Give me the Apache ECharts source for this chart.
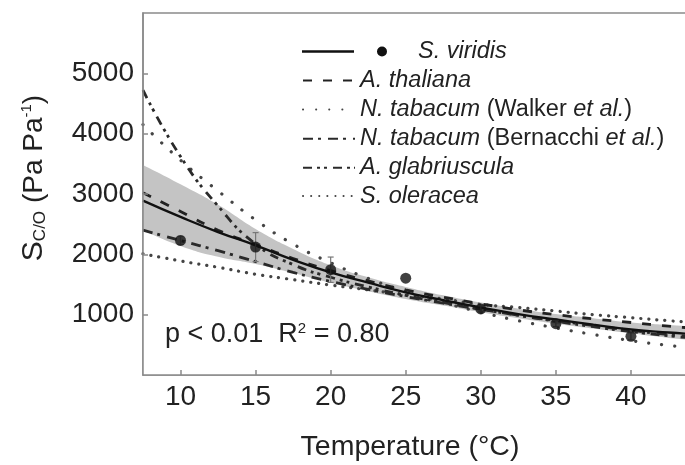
<!DOCTYPE html>
<html>
<head>
<meta charset="utf-8">
<script src="https://cdn.jsdelivr.net/npm/echarts@6/dist/echarts.min.js"></script>
<style>
html,body{margin:0;padding:0;background:#fff;}
#chart{width:685px;height:465px;}
</style>
</head>
<body>
<div id="chart"></div>
<script>
// ---- data ----
const temps = [7.5, 10, 12.5, 15, 17.5, 20, 22.5, 25, 27.5, 30, 32.5, 35, 37.5, 40, 42.5, 45];
const fitViridis = [2890, 2620, 2370, 2150, 1910, 1700, 1530, 1370, 1240, 1120, 1010, 920, 835, 755, 705, 665];
const bandLower = [2400, 2140, 1960, 1840, 1690, 1530, 1390, 1260, 1150, 1040, 940, 850, 770, 690, 615, 560];
const bandUpper = [3480, 3160, 2820, 2420, 2090, 1820, 1620, 1460, 1320, 1200, 1100, 1010, 940, 870, 830, 790];
const thaliana = [3020, 2710, 2400, 2160, 1930, 1730, 1560, 1410, 1290, 1180, 1080, 1000, 930, 870, 810, 760];
const tabacumWalker = [4150, 3560, 3050, 2570, 2170, 1860, 1600, 1380, 1200, 1040, 900, 780, 670, 570, 490, 430];
const tabacumBernacchi = [2400, 2230, 2060, 1880, 1700, 1550, 1420, 1300, 1190, 1090, 990, 900, 820, 740, 670, 610];
const glabriuscula = [4720, 3620, 2800, 2170, 1830, 1620, 1460, 1320, 1200, 1090, 990, 890, 800, 720, 650, 590];
const oleracea = [2010, 1890, 1785, 1670, 1580, 1490, 1410, 1330, 1260, 1170, 1120, 1060, 1000, 950, 900, 860];
const obsTemps = [10, 15, 20, 25, 30, 35, 40];
const obsValues = [2230, 2120, 1745, 1605, 1095, 850, 641];
const obsErrors = [70, 240, 210, 0, 50, 50, 60];
const xTickValues = [10, 15, 20, 25, 30, 35, 40];
const seriesNames = ['S. viridis', 'A. thaliana', 'N. tabacum (Walker et al.)', 'N. tabacum (Bernacchi et al.)', 'A. glabriuscula', 'S. oleracea'];

const FONT = '"Liberation Sans", Arial, sans-serif';
const pair = (xs, ys) => xs.map((x, i) => [x, ys[i]]);

const legendText = {
  'S. viridis': '{ip|S. viridis}',
  'A. thaliana': '{i|A. thaliana}',
  'N. tabacum (Walker et al.)': '{i|N. tabacum} {n|(Walker }{i|et al.}{n|)}',
  'N. tabacum (Bernacchi et al.)': '{i|N. tabacum} {n|(Bernacchi }{i|et al.}{n|)}',
  'A. glabriuscula': '{i|A. glabriuscula}',
  'S. oleracea': '{i|S. oleracea}'
};
const legendTextStyle = {
  fontSize: 23.5, color: '#222', fontFamily: FONT,
  rich: {
    i: {fontSize: 23.5, fontStyle: 'italic', color: '#222', fontFamily: FONT},
    ip: {fontSize: 23.5, fontStyle: 'italic', color: '#222', fontFamily: FONT, padding: [0, 0, 0, 26]},
    n: {fontSize: 23.5, fontStyle: 'normal', color: '#222', fontFamily: FONT}
  }
};

const lineSeries = (name, values, color, width, type, cap) => ({
  name: name, type: 'line', data: pair(temps, values), smooth: true, symbol: 'none',
  silent: true, z: 3,
  lineStyle: {color: color, width: width, type: type, cap: cap || 'butt'},
  itemStyle: {color: color}
});

const chart = echarts.init(document.getElementById('chart'), null, {renderer: 'canvas'});
chart.setOption({
  animation: false,
  backgroundColor: '#fff',
  grid: {left: 143, top: 13, right: -21, bottom: 90, containLabel: false, outerBoundsMode: 'none',
    show: true, borderColor: '#8a8a8a', borderWidth: 1.5},
  title: {
    text: 'p < 0.01  R{sup|2} = 0.80',
    left: 160, top: 316,
    textStyle: {fontSize: 27, fontWeight: 'normal', color: '#222', fontFamily: FONT,
      rich: {sup: {fontSize: 15, verticalAlign: 'top', color: '#222', fontFamily: FONT}}}
  },
  legend: [
    {
      left: 297, top: 35, orient: 'vertical', selectedMode: false,
      itemWidth: 85, itemHeight: 10, itemGap: 5.4,
      data: [{name: seriesNames[0], icon: 'path://M0,3.7L52,3.7L52,6.3L0,6.3Z M75,5A5,5,0,1,0,85,5A5,5,0,1,0,75,5Z', itemStyle: {color: '#111', borderWidth: 0}}],
      formatter: n => legendText[n],
      textStyle: legendTextStyle
    },
    {
      left: 297, top: 64, orient: 'vertical', selectedMode: false,
      itemWidth: 52, itemHeight: 12, itemGap: 5.4,
      itemStyle: {opacity: 0},
      data: seriesNames.slice(1),
      formatter: n => legendText[n],
      textStyle: legendTextStyle
    }
  ],
  xAxis: {
    type: 'value', min: 7.5, max: 45, z: 10,
    axisLine: {show: true, lineStyle: {color: '#8a8a8a', width: 1.5}},
    axisTick: {show: true, inside: true, length: 5, customValues: xTickValues, lineStyle: {color: '#8a8a8a', width: 1.5}},
    axisLabel: {customValues: xTickValues, fontSize: 28, margin: 8, color: '#222', fontFamily: FONT},
    splitLine: {show: false},
    name: 'Temperature (°C)', nameLocation: 'middle', nameGap: 58,
    nameTextStyle: {fontSize: 28.5, color: '#222', fontFamily: FONT, padding: [0, 29, 0, 0]}
  },
  yAxis: {
    type: 'value', min: 0, max: 6000, interval: 1000, z: 10,
    axisLine: {show: true, lineStyle: {color: '#8a8a8a', width: 1.5}},
    axisTick: {show: true, inside: true, length: 5, lineStyle: {color: '#8a8a8a', width: 1.5}},
    axisLabel: {showMinLabel: false, showMaxLabel: false, fontSize: 28, margin: 9, color: '#222', fontFamily: FONT,
      formatter: v => String(v)},
    splitLine: {show: false},
    name: '{s|S}{sub|C/O}{n| (Pa Pa}{sup|-1}{n|)}',
    nameLocation: 'middle', nameRotate: 90, nameGap: 94,
    nameTextStyle: {
      fontSize: 28, color: '#222', fontFamily: FONT, padding: [0, 0, 0, 32],
      rich: {
        s: {fontSize: 30, color: '#222', fontFamily: FONT},
        sub: {fontSize: 17, verticalAlign: 'bottom', color: '#222', fontFamily: FONT},
        n: {fontSize: 28, color: '#222', fontFamily: FONT},
        sup: {fontSize: 15, verticalAlign: 'top', color: '#222', fontFamily: FONT}
      }
    }
  },
  series: [
    {
      name: 'band upper', type: 'line', data: pair(temps, bandUpper), smooth: true,
      symbol: 'none', silent: true, z: 1, lineStyle: {opacity: 0},
      areaStyle: {color: '#c4c4c4', opacity: 1, origin: 'start'}
    },
    {
      name: 'band lower', type: 'line', data: pair(temps, bandLower), smooth: true,
      symbol: 'none', silent: true, z: 1.5, lineStyle: {opacity: 0},
      areaStyle: {color: '#ffffff', opacity: 1, origin: 'start'}
    },
    lineSeries(seriesNames[5], oleracea, '#444', 3.2, [0.1, 8], 'round'),
    lineSeries(seriesNames[2], tabacumWalker, '#444', 3.2, [0.1, 13], 'round'),
    lineSeries(seriesNames[4], glabriuscula, '#2a2a2a', 2.8, [9, 5, 3, 4, 3, 6]),
    lineSeries(seriesNames[3], tabacumBernacchi, '#2a2a2a', 2.8, [10, 5, 3, 7]),
    lineSeries(seriesNames[1], thaliana, '#222', 2.8, [9, 11]),
    lineSeries(seriesNames[0], fitViridis, '#111', 2.4, 'solid'),
    {
      name: 'error bars', type: 'custom', z: 5, silent: true,
      data: obsTemps.map((t, i) => [t, obsValues[i], obsErrors[i]]),
      renderItem: function (params, api) {
        const x = api.value(0), y = api.value(1), e = api.value(2);
        if (!e) return null;
        const top = api.coord([x, y + e]);
        const bot = api.coord([x, y - e]);
        const st = {stroke: '#777', lineWidth: 1.2};
        return {
          type: 'group', children: [
            {type: 'line', shape: {x1: top[0], y1: top[1], x2: bot[0], y2: bot[1]}, style: st},
            {type: 'line', shape: {x1: top[0] - 3, y1: top[1], x2: top[0] + 3, y2: top[1]}, style: st},
            {type: 'line', shape: {x1: bot[0] - 3, y1: bot[1], x2: bot[0] + 3, y2: bot[1]}, style: st}
          ]
        };
      }
    },
    {
      name: 'S. viridis data', type: 'scatter', z: 6, silent: true,
      data: pair(obsTemps, obsValues), symbol: 'circle', symbolSize: 11,
      itemStyle: {color: '#111'}
    }
  ]
});
</script>
</body>
</html>
